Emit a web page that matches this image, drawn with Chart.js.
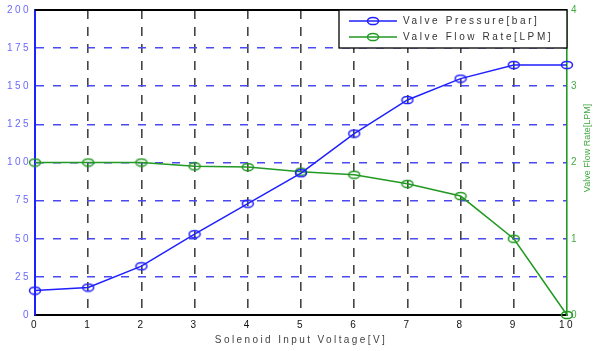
<!DOCTYPE html>
<html><head><meta charset="utf-8">
<script src="https://cdn.jsdelivr.net/npm/chart.js@4.4.0/dist/chart.umd.min.js"></script>
<style>html,body{margin:0;padding:0;background:#fff}#wrap{width:600px;height:351px}</style>
</head><body><div id="wrap"><canvas id="c" width="600" height="351"></canvas></div>
<script>
const voltage = [0, 1, 2, 3, 4, 5, 6, 7, 8, 9, 10];
const pressure = [16, 18, 32, 53, 73, 93, 119, 141, 155, 164, 164];
const flowRate = [2.0, 2.0, 2.0, 1.95, 1.94, 1.88, 1.84, 1.72, 1.56, 1.0, 0];
const pressureTicks = [0, 25, 50, 75, 100, 125, 150, 175, 200];
const flowTicks = [0, 1, 2, 3, 4];
const labelPressure = 'Valve Pressure[bar]';
const labelFlow = 'Valve Flow Rate[LPM]';
const xTitle = 'Solenoid Input Voltage[V]';
const y1Title = 'Valve Flow Rate[LPM]';

const BLUE = '#1f1fff';
const GREEN = '#229922';
const FONT = '"Liberation Sans", Arial, sans-serif';

function ellipseMarker(color) {
  const c = document.createElement('canvas');
  c.width = 14; c.height = 10;
  const g = c.getContext('2d');
  g.strokeStyle = color; g.lineWidth = 1.5;
  g.beginPath(); g.ellipse(7, 5, 5.5, 3.6, 0, 0, 2 * Math.PI); g.stroke();
  return c;
}
const markerBlue = ellipseMarker(BLUE);
const markerGreen = ellipseMarker(GREEN);

const extras = {
  id: 'extras',
  beforeDraw(chart) {
    chart.ctx.letterSpacing = '2.4px';
  },
  afterDraw(chart) {
    const ctx = chart.ctx, a = chart.chartArea;
    ctx.save();
    // top frame line
    ctx.strokeStyle = '#000'; ctx.lineWidth = 2;
    ctx.beginPath(); ctx.moveTo(a.left, a.top); ctx.lineTo(a.right, a.top); ctx.stroke();
    // right axis title, reading bottom to top
    ctx.letterSpacing = '0px';
    ctx.fillStyle = '#44aa44';
    ctx.font = '9px ' + FONT;
    ctx.textAlign = 'center'; ctx.textBaseline = 'middle';
    ctx.translate(588, 148);
    ctx.rotate(-Math.PI / 2);
    ctx.fillText(y1Title, 0, 0);
    ctx.restore();

    // legend box
    ctx.save();
    const bx = 339, by = a.top, bw = a.right - 339, bh = 38;
    ctx.fillStyle = '#fff';
    ctx.fillRect(bx, by, bw, bh);
    ctx.strokeStyle = '#000'; ctx.lineWidth = 1.3;
    ctx.strokeRect(bx, by, bw, bh);
    const rows = [
      {label: chart.data.datasets[0].label, color: BLUE, marker: markerBlue, y: by + 11},
      {label: chart.data.datasets[1].label, color: GREEN, marker: markerGreen, y: by + 27}
    ];
    ctx.font = '10px ' + FONT;
    ctx.letterSpacing = '2.6px';
    ctx.textBaseline = 'middle'; ctx.textAlign = 'left';
    rows.forEach(r => {
      ctx.strokeStyle = r.color; ctx.lineWidth = 1.5;
      ctx.beginPath(); ctx.moveTo(349, r.y); ctx.lineTo(397, r.y); ctx.stroke();
      ctx.drawImage(r.marker, 373 - 7, r.y - 5);
      ctx.fillStyle = '#333';
      ctx.fillText(r.label, 403, r.y + 0.5);
    });
    ctx.restore();
  }
};

const endsHidden = (lo, hi, color) => (c) =>
  (c.tick && (c.tick.value === lo || c.tick.value === hi)) ? 'rgba(0,0,0,0)' : color;

new Chart(document.getElementById('c'), {
  type: 'line',
  data: {
    datasets: [
      {
        label: labelPressure,
        data: voltage.map((v, i) => ({x: v, y: pressure[i]})),
        borderColor: BLUE, borderWidth: 1.5,
        pointStyle: markerBlue, pointRadius: 6,
        yAxisID: 'y', clip: false, tension: 0
      },
      {
        label: labelFlow,
        data: voltage.map((v, i) => ({x: v, y: flowRate[i]})),
        borderColor: GREEN, borderWidth: 1.5,
        pointStyle: markerGreen, pointRadius: 6,
        yAxisID: 'y1', clip: false, tension: 0
      }
    ]
  },
  options: {
    responsive: false,
    animation: false,
    devicePixelRatio: 1,
    layout: {padding: {top: 7, left: 0, right: 0, bottom: 0}},
    plugins: {legend: {display: false}, tooltip: {enabled: false}},
    scales: {
      x: {
        type: 'linear', min: 0, max: 10,
        afterBuildTicks: s => { s.ticks = voltage.map(v => ({value: v})); },
        afterFit: s => { s.height = 36; },
        grid: {color: endsHidden(0, 10, '#444'), lineWidth: 1.6, drawTicks: false},
        border: {display: true, color: '#000', width: 2, dash: [9, 8]},
        ticks: {color: '#111', font: {size: 10, family: FONT}, padding: 4, maxRotation: 0},
        title: {display: true, text: xTitle, color: '#444', font: {size: 10, family: FONT}, padding: {top: 0, bottom: 5}}
      },
      y: {
        position: 'left', min: 0, max: 200,
        afterBuildTicks: s => { s.ticks = pressureTicks.map(v => ({value: v})); },
        afterFit: s => { s.width = 35; },
        grid: {color: endsHidden(0, 200, '#4a4af0'), lineWidth: 1.6, drawTicks: false},
        border: {display: true, color: BLUE, width: 2, dash: [8, 9]},
        ticks: {color: '#6a6aff', font: {size: 10, family: FONT}, padding: 4}
      },
      y1: {
        position: 'right', min: 0, max: 4,
        afterBuildTicks: s => { s.ticks = flowTicks.map(v => ({value: v})); },
        afterFit: s => { s.width = 33; },
        grid: {display: false, drawTicks: false},
        border: {display: true, color: GREEN, width: 1.6},
        ticks: {color: '#44aa44', font: {size: 10, family: FONT}, padding: 4}
      }
    }
  },
  plugins: [extras]
});
</script>
</body></html>
